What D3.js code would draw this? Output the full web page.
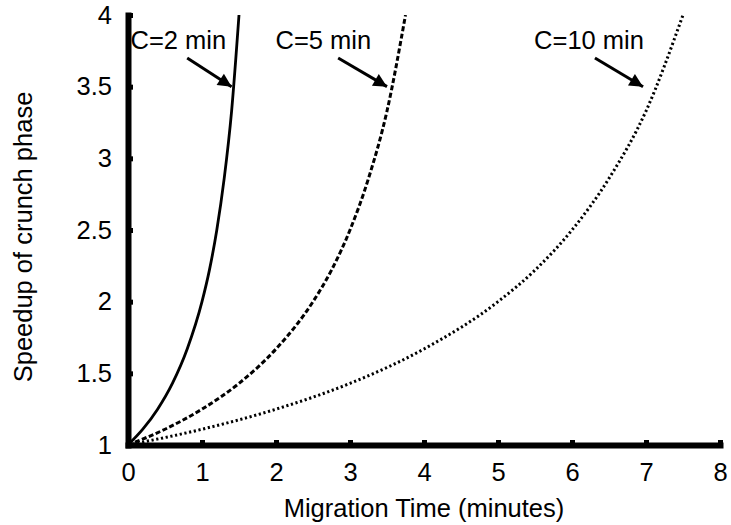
<!DOCTYPE html>
<html>
<head>
<meta charset="utf-8">
<script src="https://cdn.jsdelivr.net/npm/d3@7.9.0/dist/d3.min.js"></script>
<style>
  body { margin: 0; background: #fff; }
  svg text { font-family: "Liberation Sans", Arial, Helvetica, sans-serif; fill: #000; }
</style>
</head>
<body>
<svg width="731" height="525"></svg>
<script>
// values
const c2Time = [0, 0.2, 0.4, 0.6, 0.8, 1.0, 1.1, 1.2, 1.3, 1.4, 1.5];
const c2Speedup = [1, 1.11, 1.25, 1.43, 1.67, 2, 2.22, 2.5, 2.86, 3.33, 4];
const c5Time = [0, 0.5, 1, 1.5, 2, 2.5, 2.75, 3, 3.25, 3.5, 3.75];
const c5Speedup = [1, 1.11, 1.25, 1.43, 1.67, 2, 2.22, 2.5, 2.86, 3.33, 4];
const c10Time = [0, 1, 2, 3, 4, 5, 5.5, 6, 6.5, 7, 7.5];
const c10Speedup = [1, 1.11, 1.25, 1.43, 1.67, 2, 2.22, 2.5, 2.86, 3.33, 4];

const xTicks = [0, 1, 2, 3, 4, 5, 6, 7, 8];
const yTicks = [1, 1.5, 2, 2.5, 3, 3.5, 4];

const labels = ["C=2 min", "C=5 min", "C=10 min"];
const labelX = [0.68, 2.64, 6.23];
const labelY = 3.76;
const arrowFromX = [0.80, 2.84, 6.31];
const arrowFromY = 3.70;
const arrowToX = [1.40, 3.50, 6.96];
const arrowToY = 3.5;

const series = [
  { t: c2Time, s: c2Speedup, dash: null },
  { t: c5Time, s: c5Speedup, dash: "5,2.5" },
  { t: c10Time, s: c10Speedup, dash: "2.2,2.6" }
];

const svg = d3.select("svg");
const x = d3.scaleLinear().domain([0, 8]).range([128, 720]);
const y = d3.scaleLinear().domain([1, 4]).range([445, 15]);

const fontSize = 25.5;

// axes
const xAxis = svg.append("g")
  .attr("transform", `translate(0,${y(1)})`)
  .call(d3.axisBottom(x).tickValues(xTicks).tickFormat(d3.format("d"))
    .tickSizeInner(-5).tickSizeOuter(0).tickPadding(18));
const yAxis = svg.append("g")
  .attr("transform", `translate(${x(0)},0)`)
  .call(d3.axisLeft(y).tickValues(yTicks).tickFormat(d => String(d))
    .tickSizeInner(-5).tickSizeOuter(0).tickPadding(16));

[xAxis, yAxis].forEach(g => {
  g.select(".domain").attr("stroke", "#000").attr("stroke-width", 6)
    .attr("stroke-linecap", "square");
  g.selectAll(".tick line").attr("stroke", "#000").attr("stroke-width", 5);
  g.selectAll(".tick text").style("font-size", fontSize + "px")
    .style("font-family", "'Liberation Sans', Arial, sans-serif");
});

// curves
const line = d3.line()
  .x(d => x(d[0]))
  .y(d => y(d[1]))
  .curve(d3.curveMonotoneX);

series.forEach(sr => {
  const pts = sr.t.map((t, i) => [t, sr.s[i]]);
  svg.append("path")
    .attr("d", line(pts))
    .attr("fill", "none")
    .attr("stroke", "#000")
    .attr("stroke-width", sr.dash ? 3 : 2.8)
    .attr("stroke-dasharray", sr.dash);
});

// annotations
svg.append("defs").append("marker")
  .attr("id", "head")
  .attr("viewBox", "0 0 10 10")
  .attr("refX", 10).attr("refY", 5)
  .attr("markerWidth", 6.5).attr("markerHeight", 4.5)
  .attr("markerUnits", "strokeWidth")
  .attr("orient", "auto")
  .append("path")
  .attr("d", "M0,0 L10,5 L0,10 Z")
  .attr("fill", "#000");

labels.forEach((lab, i) => {
  svg.append("text")
    .attr("x", x(labelX[i]))
    .attr("y", y(labelY))
    .attr("text-anchor", "middle")
    .style("font-size", fontSize + "px")
    .text(lab);
  svg.append("line")
    .attr("x1", x(arrowFromX[i])).attr("y1", y(arrowFromY))
    .attr("x2", x(arrowToX[i])).attr("y2", y(arrowToY))
    .attr("stroke", "#000")
    .attr("stroke-width", 3)
    .attr("marker-end", "url(#head)");
});

// axis titles
svg.append("text")
  .attr("x", 424).attr("y", 517)
  .attr("text-anchor", "middle")
  .style("font-size", fontSize + "px")
  .text("Migration Time (minutes)");

svg.append("text")
  .attr("transform", "translate(32,237) rotate(-90)")
  .attr("text-anchor", "middle")
  .style("font-size", fontSize + "px")
  .text("Speedup of crunch phase");
</script>
</body>
</html>
